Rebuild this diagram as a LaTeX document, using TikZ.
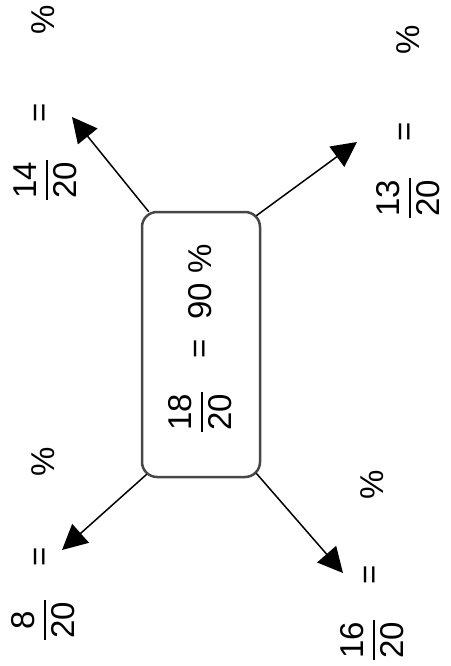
\documentclass[tikz,border=0pt]{standalone}
\usepackage{fontspec}
\setmainfont{Liberation Sans}
\usetikzlibrary{arrows.meta}
\newcommand{\myfrac}[2]{$\displaystyle{\mbox{\kern1.5pt#1\kern1.5pt}\above1.8pt\mbox{\kern1.5pt#2\kern1.5pt}}$}
\tikzset{
  lbl/.style={rotate=90, inner sep=0pt, font=\fontsize{33}{39}\selectfont},
  mainbox/.style={draw=black!72, line width=2.5pt, rounded corners=15pt, inner sep=0pt},
  arr/.style={line width=1.5pt, -{Triangle[length=25pt,width=25pt]}}
}
\begin{document}
\begin{tikzpicture}[x=1pt,y=-1pt]
\useasboundingbox (0,0) rectangle (450,666);
\node[mainbox, minimum width=118pt, minimum height=265pt] (box) at (201,344.5) {};
% central text
\node[lbl] (cf) at (200,412) {\myfrac{18}{20}};
\node[lbl] (ce) at (202,349) {=};
\node[lbl] (cp) at (200,282) {90 \%};
% tips
\coordinate (tl) at (72,117);
\coordinate (tr) at (357,142);
\coordinate (bl) at (62,550);
\coordinate (br) at (343,573);
\draw[arr] ([shift={(8,1)}]box.north west) -- (tl);
\draw[arr] ([shift={(-5,5)}]box.north east) -- (tr);
\draw[arr] ([shift={(6,-4)}]box.south west) -- (bl);
\draw[arr] ([shift={(-5,-5)}]box.south east) -- (br);
% top-left
\node[lbl] (tlp) at (43,20) {\%};
\node[lbl] (tle) at (42,113) {=};
\node[lbl] (tlf) at (45,180) {\myfrac{14}{20}};
% top-right
\node[lbl] (trp) at (408,40) {\%};
\node[lbl] (tre) at (407,132) {=};
\node[lbl] (trf) at (408,198) {\myfrac{13}{20}};
% bottom-left
\node[lbl] (blp) at (43,462) {\%};
\node[lbl] (ble) at (42,557) {=};
\node[lbl] (blf) at (43,620) {\myfrac{8}{20}};
% bottom-right
\node[lbl] (brp) at (372,485) {\%};
\node[lbl] (bre) at (372,575) {=};
\node[lbl] (brf) at (372,640) {\myfrac{16}{20}};
\end{tikzpicture}
\end{document}
